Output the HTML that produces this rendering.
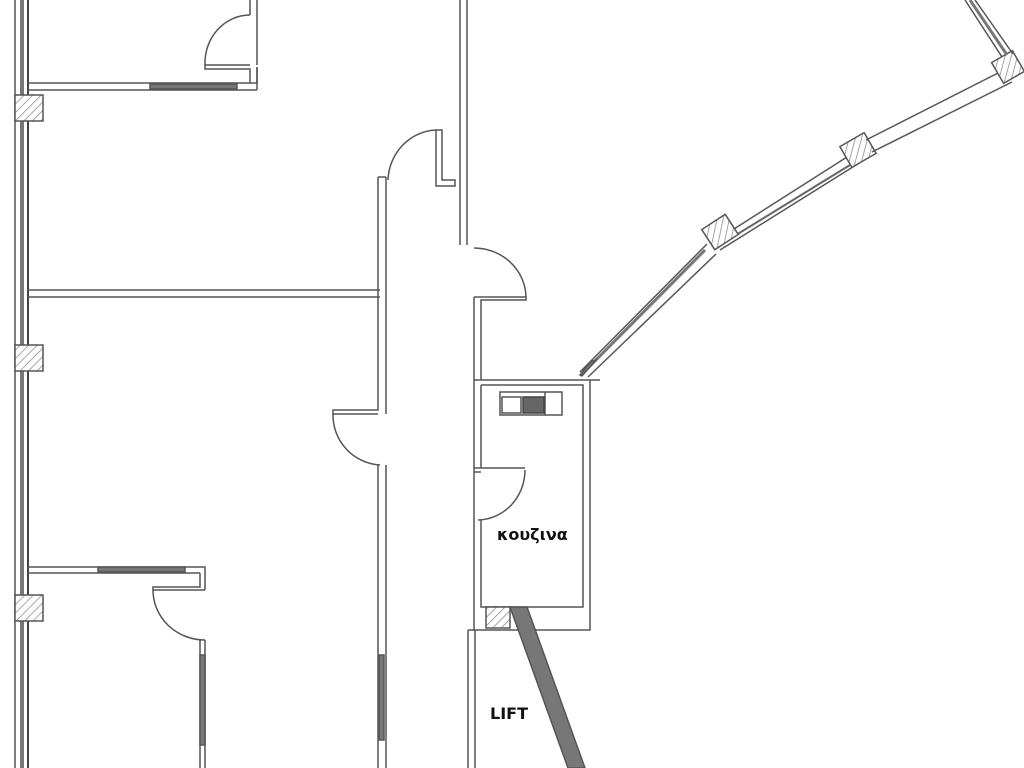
<!DOCTYPE html>
<html><head><meta charset="utf-8"><style>
html,body{margin:0;padding:0;background:#fff;width:1024px;height:768px;overflow:hidden}
svg{display:block}
text{font-family:"DejaVu Sans","Liberation Sans",sans-serif;font-weight:bold;fill:#111}
</style></head><body>
<svg width="1024" height="768" viewBox="0 0 1024 768" xmlns="http://www.w3.org/2000/svg">
<defs>
<pattern id="h" width="6" height="6" patternUnits="userSpaceOnUse" patternTransform="rotate(45)">
<rect width="6" height="6" fill="#fff"/><line x1="0" y1="0" x2="0" y2="6" stroke="#888" stroke-width="1.5"/>
</pattern>
</defs>
<g fill="none" stroke="#555" stroke-width="1.5">
<rect x="15" y="-2" width="13" height="772"/>
<rect x="20" y="-2" width="4" height="772" fill="#777" stroke="none"/>
<line x1="28" y1="0" x2="28" y2="768" stroke="#222"/>
<rect x="15" y="95" width="28" height="26" fill="url(#h)"/>
<rect x="15" y="345" width="28" height="26" fill="url(#h)"/>
<rect x="15" y="595" width="28" height="26" fill="url(#h)"/>
<path d="M28 83 H257 V67 M28 90 H257 V90"/>
<line x1="257" y1="90" x2="257" y2="67"/>
<path d="M250 83 V69 H205 V65 H250 M257 65 V0 M250 15 V0"/>
<path d="M205 65 A45 48 0 0 1 250 15"/>
<rect x="150" y="84" width="87" height="5" fill="#777" stroke="#555"/>
<path d="M28 290 H380 M28 297 H380"/>
<path d="M378 177 V410 H333 V414 H378 M386 177 V414 M378 177 H386"/>
<path d="M333 414 A50 50 0 0 0 380 465"/>
<path d="M378 465 V768 M386 465 V768"/>
<rect x="379" y="655" width="5" height="85" fill="#777"/>
<path d="M388 180 A50 52 0 0 1 436 130 H442 V180 H455 V186 H436 V130"/>
<path d="M460 0 V245 M467 0 V245"/>
<path d="M474 297 H526 L526 300 H481 V380 M474 297 V380"/>
<path d="M474 248 A52 50 0 0 1 526 297"/>
<path d="M474 380 H600 M474 380 V630 H590 V380 M481 385 H583 V607 H481 V520"/>
<path d="M481 385 V468 M474 468 H525 M474 472 H481"/>
<path d="M525 470 A48 50 0 0 1 478 520"/>
<rect x="500" y="392" width="45" height="23"/>
<rect x="502" y="397" width="19" height="16"/>
<rect x="523" y="397" width="21" height="16" fill="#666" stroke="#444"/>
<path d="M545 392 H562 V415 H545"/>
<path d="M468 630 V768 M475 630 V768 M468 630 H475"/>
<rect x="486" y="607" width="24" height="21" fill="url(#h)"/>
<polygon points="510,607 527,607 585,768 568,768" fill="#777" stroke="#555"/>
<path d="M28 567 H205 V590 M28 573 H200 M200 573 V587 H153 V590 H205"/>
<rect x="98" y="567" width="87" height="5" fill="#777"/>
<path d="M153 590 A52 50 0 0 0 205 640"/>
<path d="M200 640 V768 M205 640 V768"/>
<rect x="200" y="655" width="5" height="90" fill="#777"/>
<path d="M580 372 L707 244 M588 377 L716 254"/>
<line x1="584" y1="372" x2="705" y2="250" stroke="#777" stroke-width="3"/>
<polygon points="580,375 590,362 596,360 582,376" fill="#777"/>
<path d="M712 243 L858 150 M720 250 L864 160"/>
<line x1="728" y1="240" x2="850" y2="165" stroke="#666" stroke-width="2"/>
<rect x="-14" y="-12" width="28" height="24" transform="translate(720,232) rotate(-33)" fill="url(#h)"/>
<rect x="-14" y="-12" width="28" height="24" transform="translate(858,150) rotate(-30)" fill="url(#h)"/>
<path d="M866 140 L1000 72 M872 152 L1012 82"/>
<rect x="-12" y="-12" width="24" height="24" transform="translate(1008,67) rotate(-30)" fill="url(#h)"/>
<path d="M965 0 L1002 57 M975 0 L1013 54"/>
<line x1="970" y1="0" x2="1007" y2="55" stroke="#777" stroke-width="3"/>
</g>
<text x="497" y="540" font-size="16">κουζινα</text>
<text x="490" y="719" font-size="16">LIFT</text>
</svg>
</body></html>
